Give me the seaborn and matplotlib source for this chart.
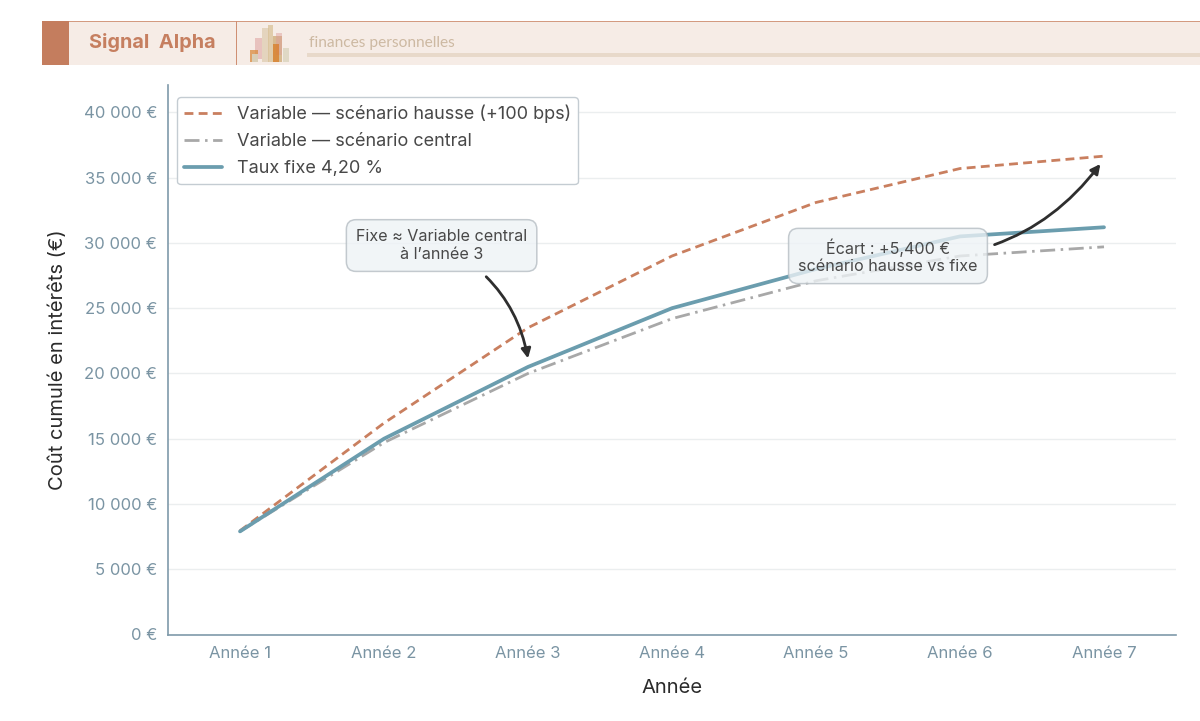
import matplotlib
matplotlib.use('Agg')
import matplotlib.pyplot as plt
from matplotlib.patches import Rectangle
from matplotlib.ticker import FuncFormatter
import pandas as pd
import seaborn as sns

annees = ['Année 1', 'Année 2', 'Année 3', 'Année 4', 'Année 5', 'Année 6', 'Année 7']
hausse = [7950, 16200, 23500, 29000, 33100, 35700, 36650]
central = [7900, 14700, 20000, 24200, 27100, 29000, 29700]
fixe = [7900, 15000, 20500, 25000, 28000, 30500, 31200]
y_ticks = [0, 5000, 10000, 15000, 20000, 25000, 30000, 35000, 40000]

nom_hausse = 'Variable — scénario hausse (+100 bps)'
nom_central = 'Variable — scénario central'
nom_fixe = 'Taux fixe 4,20 %'

# petit logo du bandeau : (gauche, haut, largeur, hauteur, couleur, alpha) en pixels
logo_bars = [
    (255, 38, 7, 21, '#dc9a98', 0.5),
    (250, 50, 8, 12, '#d98a3c', 0.75),
    (252, 54, 6, 8, '#d9d3c0', 0.9),
    (262, 28, 7, 34, '#d8c4a4', 0.6),
    (268, 25, 5, 37, '#d8bf92', 0.7),
    (273, 36, 9, 26, '#b98a3c', 0.5),
    (276, 33, 6, 22, '#dc9a98', 0.45),
    (273, 44, 6, 18, '#d9791f', 0.7),
    (283, 48, 6, 14, '#d6d0b8', 0.7),
]

sns.set_theme(style='white')
plt.rcParams['font.family'] = ['Inter', 'DejaVu Sans']

df = pd.DataFrame({'annee': annees, nom_hausse: hausse, nom_central: central, nom_fixe: fixe})

fig = plt.figure(figsize=(12, 7.21), dpi=100)
W, H = 1200, 721
ax = fig.add_axes([168 / W, 1 - 634.5 / H, (1176 - 168) / W, (634.5 - 85) / H])

sns.lineplot(data=df, x='annee', y=nom_hausse, ax=ax, color='#c97f5f', lw=2,
             linestyle=(0, (3.2, 1.9)), label=nom_hausse, sort=False)
sns.lineplot(data=df, x='annee', y=nom_central, ax=ax, color='#a8a8a8', lw=2,
             linestyle=(0, (5.4, 2, 0.9, 2)), label=nom_central, sort=False)
sns.lineplot(data=df, x='annee', y=nom_fixe, ax=ax, color='#6b9dae', lw=2.7,
             label=nom_fixe, sort=False)

ax.set_xlim(-0.5, 6.5)
ax.set_ylim(0, 42100)
ax.set_yticks(y_ticks)
ax.yaxis.set_major_formatter(FuncFormatter(lambda v, p: f'{int(v):,} €'.replace(',', ' ')))
ax.grid(axis='y', color='#ebeeef', lw=1)
ax.set_axisbelow(True)
ax.tick_params(axis='both', colors='#7a94a3', labelsize=12, length=0, pad=8)
ax.set_xlabel('Année', fontsize=14.5, color='#2b2b2b', labelpad=13)
ax.set_ylabel('Coût cumulé en intérêts (€)', fontsize=14.5, color='#2b2b2b', labelpad=12)

sns.despine(ax=ax)
ax.spines['left'].set_color('#7f9aaa')
ax.spines['bottom'].set_color('#7f9aaa')
ax.spines['left'].set_linewidth(1.2)
ax.spines['bottom'].set_linewidth(1.2)

leg = ax.legend(loc='upper left', bbox_to_anchor=(0.0, 0.994), fontsize=13, frameon=True,
                facecolor='white', edgecolor='#c4ccd2', framealpha=1, labelspacing=0.56,
                borderpad=0.4, handlelength=2.1, handletextpad=0.8, fancybox=True)
leg.get_frame().set_linewidth(1)
for t in leg.get_texts():
    t.set_color('#484848')

box = dict(boxstyle='round,pad=0.6', fc='#eef3f6', ec='#b4bcc2', lw=1.1, alpha=0.78)
arrow = dict(arrowstyle='-|>', color='#2e2e2e', lw=2, mutation_scale=14, shrinkA=5, shrinkB=0)
ax.annotate('Fixe ≈ Variable central\nà l’année 3', xy=(2, 21150), xytext=(1.4, 29800),
            ha='center', va='center', fontsize=11.6, color='#484848', bbox=box, zorder=6,
            arrowprops=dict(arrow, connectionstyle='arc3,rad=-0.25'))
ax.annotate('Écart : +5,400 €\nscénario hausse vs fixe', xy=(5.975, 36050), xytext=(4.5, 29000),
            ha='center', va='center', fontsize=11.6, color='#484848', bbox=box, zorder=6,
            arrowprops=dict(arrow, connectionstyle='arc3,rad=0.28'))

# bandeau du haut
def px_rect(x, y, w, h, **kw):
    fig.add_artist(Rectangle((x / W, 1 - (y + h) / H), w / W, h / H, transform=fig.transFigure, **kw))

px_rect(42, 21, 1158, 44, fc='#f6ece6', ec='none')
px_rect(42, 21, 1158, 1.2, fc='#d39a80', ec='none')
px_rect(42, 21, 27, 44, fc='#c47d5e', ec='none')
px_rect(236, 21, 1, 44, fc='#cf8f73', ec='none')
px_rect(307, 53, 893, 4, fc='#e8d9ca', ec='none')
for x, y, w, h, c, a in logo_bars:
    px_rect(x, y, w, h, fc=c, ec='none', alpha=a)
fig.text(89 / W, 1 - 43 / H, 'Signal  Alpha', fontsize=14.3, fontweight='bold', color='#c67f60',
         family=['Inter', 'DejaVu Sans'], va='center')
fig.text(309 / W, 1 - 42.5 / H, 'finances personnelles', fontsize=11.2, color='#cdb9a2',
         family=['Lato', 'DejaVu Sans'], va='center')

fig.savefig('out.png', dpi=100)
